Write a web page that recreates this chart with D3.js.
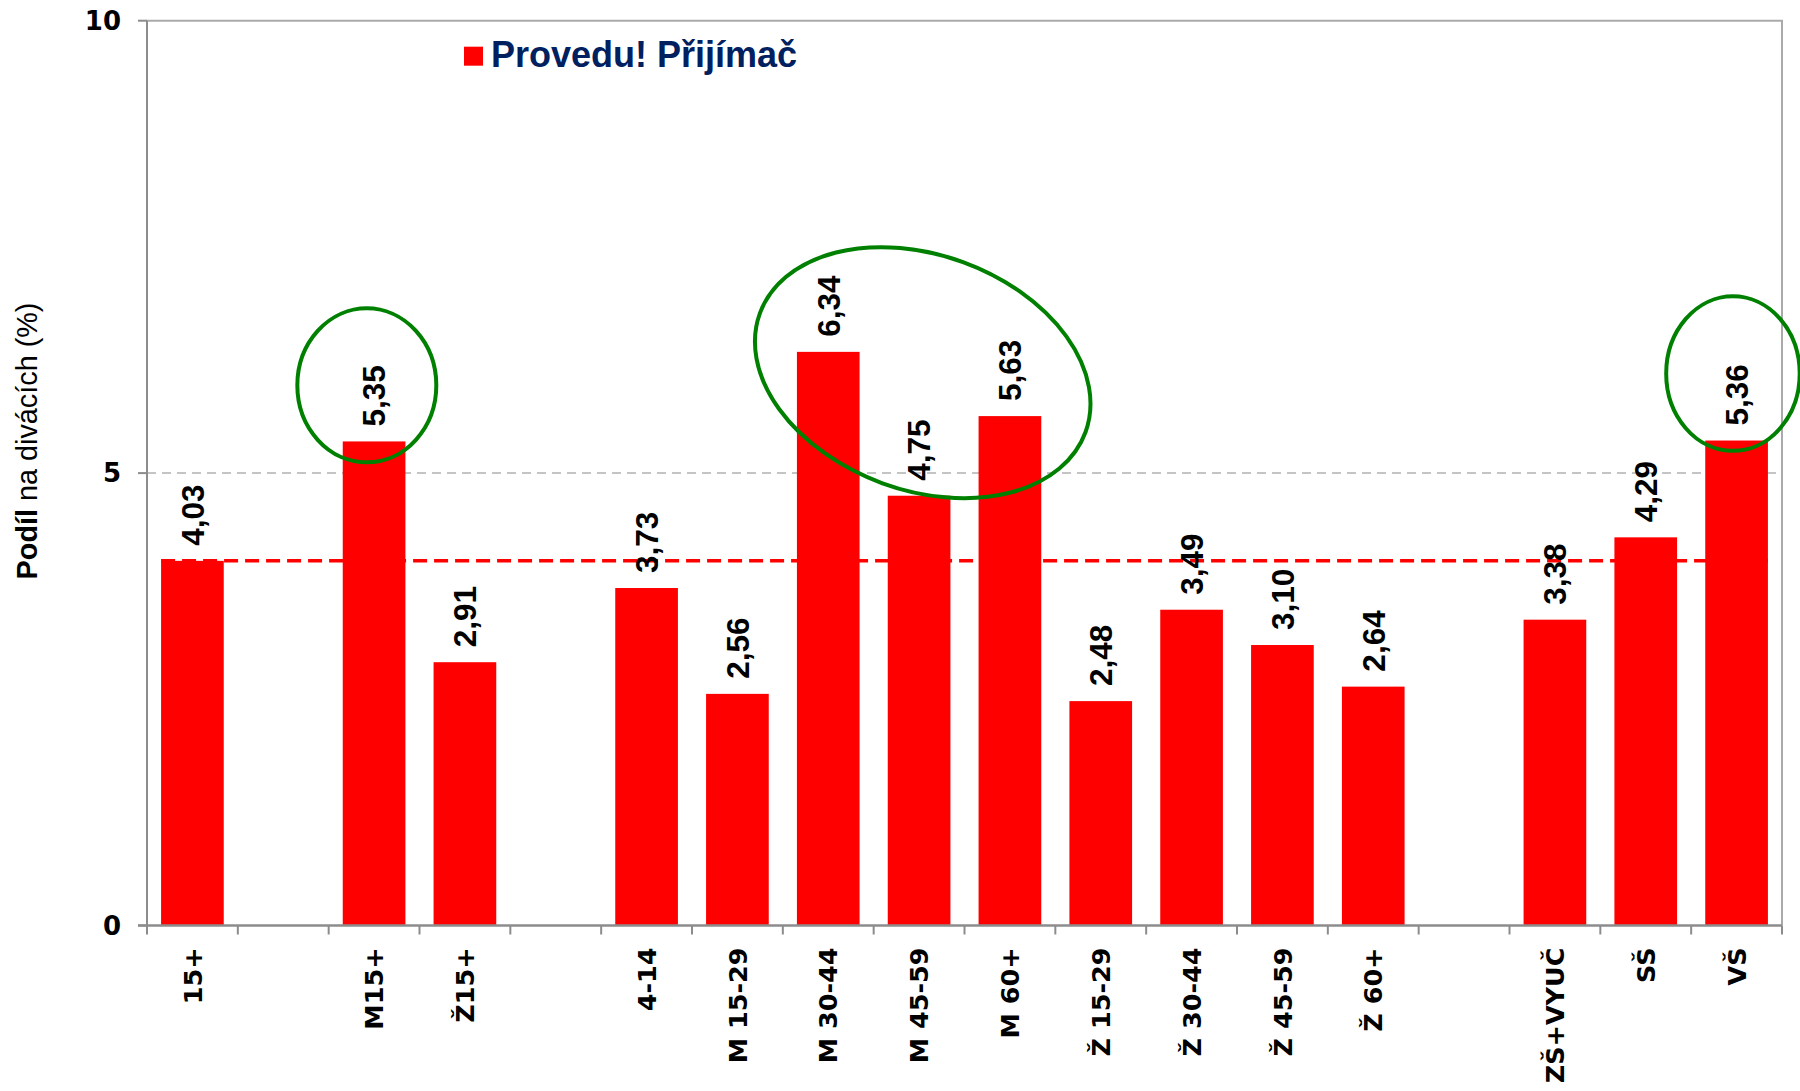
<!DOCTYPE html>
<meta charset="utf-8">
<style>
    body { margin: 0; background: #fff; }
    .bar { fill: #ff0000; }
    .value { font: bold 31.5px "Liberation Sans", Arial, sans-serif; fill: #000; }
    .xlabel { font: bold 25.5px "DejaVu Sans", Verdana, sans-serif; fill: #000; }
    .ylabel { font: bold 26px "DejaVu Sans", Verdana, sans-serif; fill: #000; }
    .title { font: 28.8px "Liberation Sans", Arial, sans-serif; fill: #000; }
    .legend { font: bold 36px "Liberation Sans", Arial, sans-serif; fill: #002060; }
    .ring { fill: none; stroke: #008000; stroke-width: 4px; }
</style>
<svg></svg>
<script src="https://cdn.jsdelivr.net/npm/d3@7"></script>
<script>

    var categories = ["15+", "", "M15+", "Ž15+", "", "4-14", "M 15-29", "M 30-44", "M 45-59", "M 60+",
        "Ž 15-29", "Ž 30-44", "Ž 45-59", "Ž 60+", "", "ZŠ+VYUČ", "SŠ", "VŠ"];
    var values = [4.03, null, 5.35, 2.91, null, 3.73, 2.56, 6.34, 4.75, 5.63,
        2.48, 3.49, 3.10, 2.64, null, 3.38, 4.29, 5.36];
    var average = 4.03;
    var yTicks = [0, 5, 10];
    var seriesName = "Provedu! Přijímač";

    // highlighted groups: slot position, centre value, radii in slot widths, tilt
    var rings = [
        {slot: 2.42, value: 5.97, rx: 0.765, ry: 0.848, angle: 0},
        {slot: 8.54, value: 6.11, rx: 1.908, ry: 1.296, angle: 20},
        {slot: 17.46, value: 6.10, rx: 0.735, ry: 0.851, angle: 0}
    ];

    var width = 1800,
        height = 1091,
        margin = {top: 20.7, right: 18, bottom: 165.5, left: 147};

    var svg = d3.select("svg")
        .attr("width", width)
        .attr("height", height);

    var x = d3.scaleBand()
        .domain(d3.range(categories.length))
        .range([margin.left, width - margin.right])
        .paddingInner(0.31)
        .paddingOuter(0.155);

    var slot = d3.scaleLinear()
        .domain([0, categories.length])
        .range([margin.left, width - margin.right]);

    var y = d3.scaleLinear()
        .domain([0, 10])
        .range([height - margin.bottom, margin.top]);

    var comma = d3.formatLocale({decimal: ",", thousands: " ", grouping: [3], currency: ["", ""]}).format(".2f");

    // plot frame (top + right)
    svg.append("path")
        .attr("d", "M" + margin.left + "," + y(10) + "H" + (width - margin.right) + "V" + y(0))
        .attr("fill", "none")
        .attr("stroke", "#aaa")
        .attr("stroke-width", 2);

    // grid line at 5
    svg.append("line")
        .attr("x1", margin.left).attr("x2", width - margin.right)
        .attr("y1", y(5)).attr("y2", y(5))
        .attr("stroke", "#c4c4c4")
        .attr("stroke-width", 2)
        .attr("stroke-dasharray", "9,6");

    var bars = values.map(function(v, i) { return {i: i, v: v}; }).filter(function(d) { return d.v != null; });

    svg.selectAll(".bar")
        .data(bars)
        .enter().append("rect")
        .attr("class", "bar")
        .attr("x", function(d) { return x(d.i); })
        .attr("width", x.bandwidth())
        .attr("y", function(d) { return y(d.v); })
        .attr("height", function(d) { return y(0) - y(d.v); });

    // average line
    svg.append("line")
        .attr("x1", x(bars[0].i)).attr("x2", x(bars[bars.length - 1].i) + x.bandwidth())
        .attr("y1", y(average)).attr("y2", y(average))
        .attr("stroke", "#ff0000")
        .attr("stroke-width", 3.5)
        .attr("stroke-dasharray", "14,7");

    svg.selectAll(".value")
        .data(bars)
        .enter().append("text")
        .attr("class", "value")
        .attr("transform", function(d) {
            return "translate(" + (x(d.i) + x.bandwidth() / 2) + "," + (y(d.v) - 15) + ") rotate(-90)";
        })
        .attr("dy", "0.36em")
        .text(function(d) { return comma(d.v); });

    // axes
    var axisColor = "#8c8c8c";
    svg.append("line")
        .attr("x1", margin.left).attr("x2", margin.left)
        .attr("y1", y(10)).attr("y2", y(0))
        .attr("stroke", axisColor).attr("stroke-width", 2);
    svg.append("line")
        .attr("x1", margin.left - 9).attr("x2", width - margin.right)
        .attr("y1", y(0)).attr("y2", y(0))
        .attr("stroke", axisColor).attr("stroke-width", 2.5);

    svg.selectAll(".ytick")
        .data(yTicks)
        .enter().append("line")
        .attr("x1", margin.left - 9).attr("x2", margin.left)
        .attr("y1", function(d) { return y(d); }).attr("y2", function(d) { return y(d); })
        .attr("stroke", axisColor).attr("stroke-width", 2);

    svg.selectAll(".ylabel")
        .data(yTicks)
        .enter().append("text")
        .attr("class", "ylabel")
        .attr("x", margin.left - 26)
        .attr("y", function(d) { return y(d); })
        .attr("dy", "0.36em")
        .attr("text-anchor", "end")
        .text(function(d) { return d; });

    svg.selectAll(".xtick")
        .data(d3.range(categories.length + 1))
        .enter().append("line")
        .attr("x1", function(d) { return slot(d); }).attr("x2", function(d) { return slot(d); })
        .attr("y1", y(0)).attr("y2", y(0) + 9)
        .attr("stroke", axisColor).attr("stroke-width", 2);

    svg.selectAll(".xlabel")
        .data(categories)
        .enter().append("text")
        .attr("class", "xlabel")
        .attr("transform", function(d, i) {
            return "translate(" + (x(i) + x.bandwidth() / 2) + "," + (y(0) + 22) + ") rotate(-90)";
        })
        .attr("dy", "0.36em")
        .attr("text-anchor", "end")
        .text(function(d) { return d; });

    // y title
    var title = svg.append("text")
        .attr("class", "title")
        .attr("transform", "translate(37," + 441 + ") rotate(-90)")
        .attr("text-anchor", "middle");
    title.append("tspan").attr("font-weight", "bold").text("Podíl");
    title.append("tspan").text(" na divácích (%)");

    // legend
    svg.append("rect")
        .attr("x", 464).attr("y", 46.7)
        .attr("width", 19).attr("height", 19)
        .attr("fill", "#ff0000");
    svg.append("text")
        .attr("class", "legend")
        .attr("x", 491).attr("y", 67)
        .text(seriesName);

    // annotation rings
    svg.selectAll(".ring")
        .data(rings)
        .enter().append("ellipse")
        .attr("class", "ring")
        .attr("transform", function(d) {
            return "translate(" + slot(d.slot) + "," + y(d.value) + ") rotate(" + d.angle + ")";
        })
        .attr("rx", function(d) { return d.rx * x.step(); })
        .attr("ry", function(d) { return d.ry * x.step(); });

</script>
